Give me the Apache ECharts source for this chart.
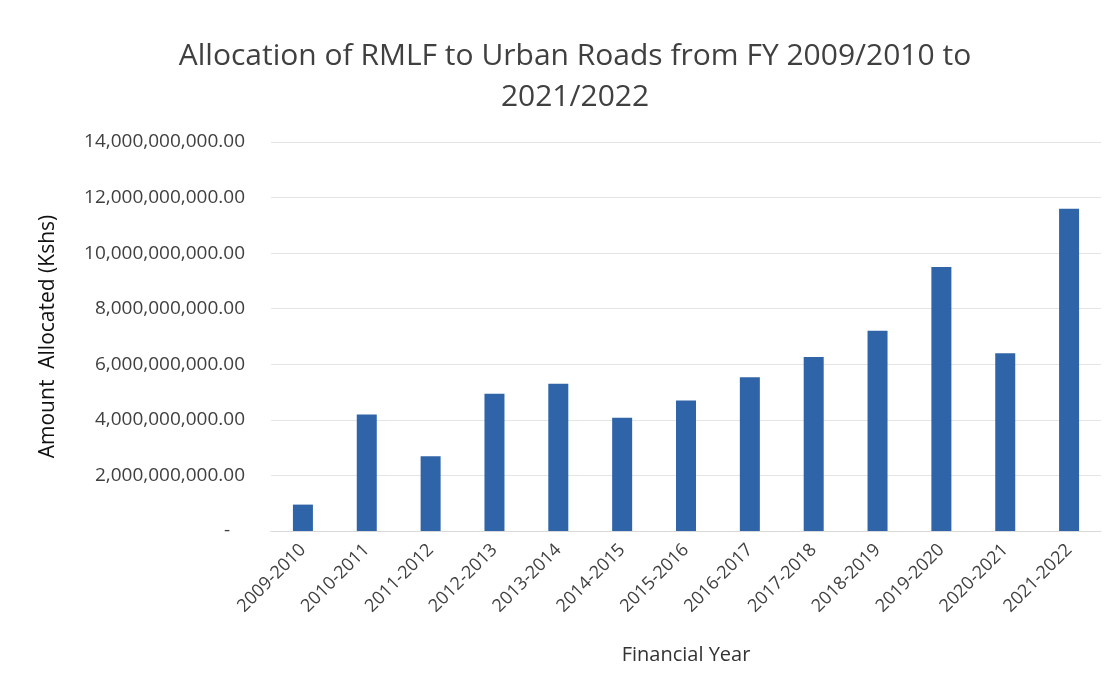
<!DOCTYPE html>
<html>
<head>
<meta charset="utf-8">
<script src="https://cdn.jsdelivr.net/npm/echarts@6/dist/echarts.min.js"></script>
<style>
  html, body { margin: 0; padding: 0; background: #fff; }
  #chart { width: 1118px; height: 691px; }
</style>
</head>
<body>
<div id="chart"></div>
<script>
// financial years on the x axis
var years = ['2009-2010', '2010-2011', '2011-2012', '2012-2013', '2013-2014', '2014-2015',
  '2015-2016', '2016-2017', '2017-2018', '2018-2019', '2019-2020', '2020-2021', '2021-2022'];
// amount allocated, Kshs
var amounts = [950000000, 4190000000, 2690000000, 4940000000, 5300000000, 4080000000,
  4700000000, 5530000000, 6260000000, 7210000000, 9500000000, 6400000000, 11600000000];
var yTicks = [0, 2000000000, 4000000000, 6000000000, 8000000000, 10000000000, 12000000000, 14000000000];

var chart = echarts.init(document.getElementById('chart'));

function fmt(v) {
  if (v === 0) return '-   ';
  return v.toLocaleString('en-US', { minimumFractionDigits: 2, maximumFractionDigits: 2 });
}

chart.setOption({
  animation: false,
  textStyle: { fontFamily: 'Open Sans' },
  title: {
    text: 'Allocation of RMLF to Urban Roads from FY 2009/2010 to\n2021/2022',
    left: 570,
    textAlign: 'center',
    top: 31,
    textStyle: {
      fontSize: 30,
      fontWeight: 'normal',
      color: '#404040',
      lineHeight: 41
    }
  },
  grid: {
    left: 271,
    right: 17,
    top: 142,
    bottom: 160
  },
  xAxis: {
    type: 'category',
    data: years,
    name: 'Financial Year',
    nameLocation: 'middle',
    nameGap: 114,
    nameTextStyle: { fontSize: 20, color: '#333' },
    axisLine: { lineStyle: { color: '#d9d9d9' } },
    axisTick: { show: false },
    axisLabel: {
      rotate: 45,
      fontSize: 18,
      color: '#404040',
      margin: 16,
      interval: 0
    }
  },
  yAxis: {
    type: 'value',
    min: yTicks[0],
    max: yTicks[yTicks.length - 1],
    interval: 2000000000,
    name: 'Amount  Allocated (Kshs)',
    nameLocation: 'middle',
    nameGap: 212,
    nameTextStyle: { fontSize: 21, color: '#111' },
    axisLine: { show: false },
    axisTick: { show: false },
    axisLabel: {
      fontSize: 19,
      color: '#404040',
      margin: 26,
      formatter: fmt
    },
    splitLine: { lineStyle: { color: '#e4e4e4' } }
  },
  series: [{
    type: 'bar',
    data: amounts,
    barWidth: 20,
    itemStyle: { color: '#2f64a8' }
  }]
});
</script>
</body>
</html>
